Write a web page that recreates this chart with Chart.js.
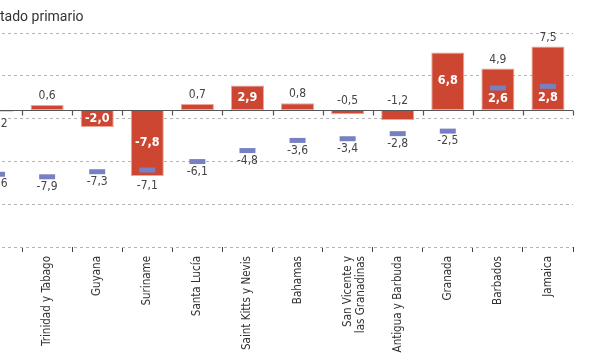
<!DOCTYPE html>
<html>
<head>
<meta charset="utf-8">
<script src="https://cdn.jsdelivr.net/npm/chart.js@4.4.1/dist/chart.umd.min.js"></script>
<style>
  body { margin: 0; background: #fff; overflow: hidden; }
  #wrap { position: absolute; left: -60px; top: 0; width: 650px; height: 354px; }
</style>
</head>
<body>
<div id="wrap"><canvas id="bar-chart" width="650" height="354"></canvas></div>
<script>
        // categories (first one is only partly visible in the reference)
        var paises = ['Belice', 'Trinidad y Tabago', 'Guyana', 'Suriname', 'Santa Lucía',
            'Saint Kitts y Nevis', 'Bahamas', ['San Vicente y', 'las Granadinas'],
            'Antigua y Barbuda', 'Granada', 'Barbados', 'Jamaica'];

        // bars: resultado primario
        var primario = [-0.2, 0.6, -2.0, -7.8, 0.7, 2.9, 0.8, -0.5, -1.2, 6.8, 4.9, 7.5];

        // dashes: resultado global
        var global = [-7.6, -7.9, -7.3, -7.1, -6.1, -4.8, -3.6, -3.4, -2.8, -2.5, 2.6, 2.8];

        // dashed grid lines of the original (they don't sit on zero)
        var gridValues = [-16.2, -11.14, -6.08, -1.02, 4.04, 9.1];

        var rojo = '#cc4631';
        var azul = '#7880c4';
        var narrow = "'Liberation Sans Narrow', 'DejaVu Sans Condensed', sans-serif";

        function fmt(v) {
            return v.toFixed(1).replace('.', ',');
        }

        // zero line with its little ticks
        var zeroLine = {
            id: 'zeroLine',
            afterDatasetsDraw(chart) {
                var ctx = chart.ctx, xs = chart.scales.x, ys = chart.scales.y;
                var y0 = Math.round(ys.getPixelForValue(0)) + 0.5;
                var w = xs.getPixelForValue(1) - xs.getPixelForValue(0);
                ctx.save();
                ctx.strokeStyle = '#555';
                ctx.lineWidth = 1.2;
                ctx.beginPath();
                ctx.moveTo(chart.chartArea.left, y0);
                ctx.lineTo(chart.chartArea.right, y0);
                for (var i = 0; i <= paises.length; i++) {
                    var x = Math.round(xs.getPixelForValue(0) - w / 2 + i * w) + 0.5;
                    ctx.moveTo(x, y0);
                    ctx.lineTo(x, y0 + 5);
                }
                ctx.stroke();
                ctx.restore();
            }
        };

        // value labels for bars and dashes
        var valueLabels = {
            id: 'valueLabels',
            afterDraw(chart) {
                var ctx = chart.ctx;
                var bars = chart.getDatasetMeta(0).data;
                var marks = chart.getDatasetMeta(1).data;
                var y0 = chart.scales.y.getPixelForValue(0);
                ctx.save();
                ctx.textAlign = 'center';
                ctx.textBaseline = 'middle';
                bars.forEach(function (bar, i) {
                    var v = primario[i], g = global[i], mark = marks[i];
                    var markInside = g > 0 && v > g;

                    if (Math.abs(v) >= 1.5 && !markInside) {
                        ctx.font = 'bold 12.5px ' + narrow;
                        ctx.fillStyle = '#fff';
                        ctx.fillText(fmt(v), bar.x, (bar.y + bar.base) / 2);
                    } else {
                        ctx.font = '12px ' + narrow;
                        ctx.fillStyle = '#444';
                        var ty;
                        if (v >= 0) ty = bar.y - 9;
                        else if (v > -0.4) ty = bar.y + 12;
                        else ty = y0 - 9;
                        ctx.fillText(fmt(v), bar.x, ty);
                    }

                    if (markInside) {
                        ctx.font = 'bold 12.5px ' + narrow;
                        ctx.fillStyle = '#fff';
                        ctx.fillText(fmt(g), mark.x, mark.y + 11);
                    } else {
                        ctx.font = '12px ' + narrow;
                        ctx.fillStyle = '#444';
                        var below = mark.y;
                        if (v < 0 && bar.y > below) below = bar.y;
                        ctx.fillText(fmt(g), mark.x, below + 10);
                    }
                });

                // legend (cut by the left edge, like the reference)
                ctx.font = '14px Roboto, sans-serif';
                ctx.textAlign = 'left';
                ctx.fillStyle = '#333';
                var txt = 'Resultado primario';
                var cut = ctx.measureText('Resul').width;
                var tx = 60 - cut;
                ctx.fillText(txt, tx, 17);
                ctx.fillStyle = rojo;
                ctx.fillRect(tx - 16, 12, 10, 10);
                ctx.restore();
            }
        };

        var ctx = document.getElementById('bar-chart').getContext('2d');

        var config = {
            type: 'bar',
            data: {
                labels: paises,
                datasets: [{
                    label: 'Resultado primario',
                    data: primario,
                    backgroundColor: rojo,
                    borderColor: '#eea597',
                    borderWidth: 1,
                    borderSkipped: false,
                    categoryPercentage: 1,
                    barPercentage: 0.66,
                    order: 2
                }, {
                    type: 'line',
                    label: 'Resultado global',
                    data: global,
                    showLine: false,
                    pointStyle: 'line',
                    pointRadius: 8,
                    pointHoverRadius: 8,
                    pointBorderWidth: 5,
                    pointHoverBorderWidth: 5,
                    borderColor: azul,
                    backgroundColor: azul,
                    order: 1
                }]
            },
            options: {
                responsive: false,
                animation: false,
                events: [],
                layout: {
                    padding: { left: 32, right: 17, top: 33, bottom: 0 }
                },
                plugins: {
                    legend: { display: false },
                    tooltip: { enabled: false }
                },
                scales: {
                    x: {
                        grid: {
                            offset: true,
                            drawOnChartArea: false,
                            drawTicks: true,
                            tickLength: 5,
                            color: '#444'
                        },
                        border: { display: false },
                        ticks: {
                            autoSkip: false,
                            maxRotation: 90,
                            minRotation: 90,
                            padding: 4,
                            color: '#333',
                            font: { family: narrow, size: 11.5 }
                        },
                        afterFit(scale) { scale.height = 107; }
                    },
                    y: {
                        min: gridValues[0],
                        max: gridValues[gridValues.length - 1],
                        afterBuildTicks(scale) {
                            scale.ticks = gridValues.map(function (v) { return { value: v }; });
                        },
                        grid: {
                            color: '#b5b5b5',
                            lineWidth: 1,
                            drawTicks: false
                        },
                        border: { display: false, dash: [3, 3] },
                        ticks: { display: false },
                        afterFit(scale) { scale.width = 0; }
                    }
                }
            },
            plugins: [zeroLine, valueLabels]
        };
        new Chart(ctx, config);
</script>
</body>
</html>
